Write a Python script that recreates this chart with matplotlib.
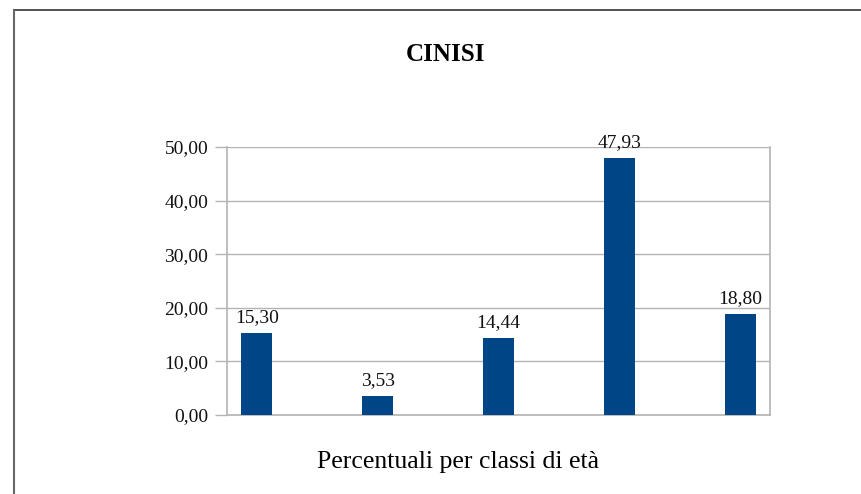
import matplotlib.pyplot as plt
from matplotlib.lines import Line2D

# -----------------------------
# Data
# -----------------------------
title = "CINISI"
xlabel = "Percentuali per classi di età"
categories = ["classe 1", "classe 2", "classe 3", "classe 4", "classe 5"]
values = [15.30, 3.53, 14.44, 47.93, 18.80]
yticks = [0, 10, 20, 30, 40, 50]

bar_color = "#004586"
grid_color = "#b3b3b3"

plt.rcParams["font.family"] = ["Liberation Serif", "DejaVu Serif"]

fig = plt.figure(figsize=(8.61, 4.94), dpi=100)
ax = fig.add_axes([0.2636, 0.1599, 0.6307, 0.5425])

x = list(range(len(categories)))
bars = ax.bar(x, values, width=0.256, color=bar_color, zorder=3)

for xi, v in zip(x, values):
    ax.annotate(f"{v:.2f}".replace(".", ","), (xi, v),
                xytext=(0, 5), textcoords="offset points",
                ha="center", va="bottom", fontsize=14, color="#111111")

ax.set_xlim(-0.246, 4.244)
ax.set_ylim(0, 50)
ax.set_yticks(yticks)
ax.set_yticklabels([f"{t:.2f}".replace(".", ",") for t in yticks], fontsize=14)
ax.set_xticks([])
ax.grid(axis="y", color=grid_color, linewidth=1, zorder=0)
ax.tick_params(axis="y", direction="out", length=8.5, width=1,
               color=grid_color, pad=5, labelcolor="#111111")

for side in ["left", "right", "bottom"]:
    ax.spines[side].set_color(grid_color)
    ax.spines[side].set_linewidth(1.2)
ax.spines["top"].set_visible(False)

fig.text(0.518, 0.889, title, ha="center", va="center",
         fontsize=18, fontweight="bold")
fig.text(0.532, 0.065, xlabel, ha="center", va="center", fontsize=18.5)

# outer frame (top and left edges only visible)
top_y = 1 - 10.5 / 494
left_x = 14 / 861
fig.add_artist(Line2D([left_x, 1], [top_y, top_y],
                      transform=fig.transFigure, color="#333333", linewidth=1.2))
fig.add_artist(Line2D([left_x, left_x], [0, top_y],
                      transform=fig.transFigure, color="#666666", linewidth=1.5))

plt.savefig("out.png", dpi=100)
plt.close()
